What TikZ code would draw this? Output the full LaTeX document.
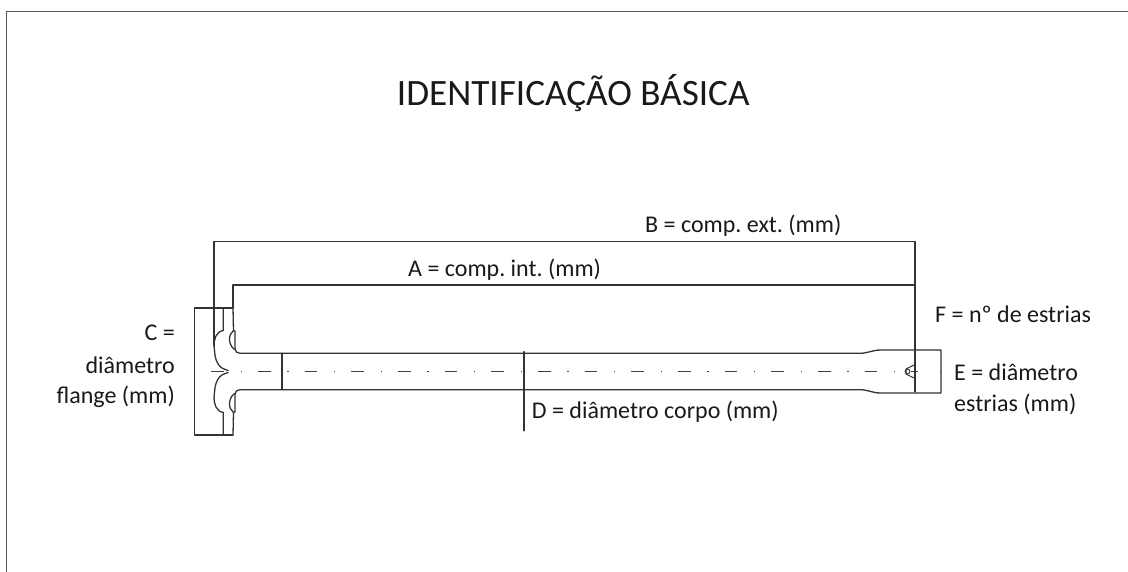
\documentclass[tikz,border=0pt]{standalone}
\usepackage{fontspec}
\setmainfont{Carlito}
\tikzset{
    part/.style={line width=1.3pt,color=black!80,line cap=round,line join=round},
    axisline/.style={line width=1.1pt,color=black!75,dash pattern=on 12.6pt off 16.6pt on 1.6pt off 15.87pt},
    label/.style={font=\frenchspacing\fontsize{24}{31.5}\selectfont,color=black!90,inner sep=0pt},
    heading/.style={font=\fontsize{37.2}{44}\selectfont,color=black!90,inner sep=0pt}
}
\begin{document}
\begin{tikzpicture}[x=1pt,y=-1pt]
        \useasboundingbox (0,0) rectangle (1128,572);

        % draw the open frame
        \draw[line width=1.8pt,color=black!65] (6.5,572) -- (6.5,11.5) -- (1128,11.5);

        \node[heading,anchor=base west] (title) at (396.7,106) {IDENTIFICAÇÃO BÁSICA};

        % draw the flange and the shaft, upper half then lower half
        \foreach \s in {1,-1} {
            \begin{scope}[shift={(0,371.5)},yscale=\s]
                % flange outline
                \draw[part] (194.7,0) -- (194.7,-63.5) -- (233,-63.5);
                \draw[part] (223.3,-63.5) -- (223.3,-41)
                    .. controls (216,-40) and (214,-32) .. (214,-26)
                    -- (215,-16)
                    .. controls (216,-10) and (219,-5) .. (222,-3.5)
                    .. controls (224,-2.5) and (226,-1.5) .. (228,-1);
                % neck fillet
                \draw[part] (233,-63.5) -- (233.5,-41) -- (235,-40.5) -- (235,-23)
                    .. controls (235,-20) and (237,-18.2) .. (240,-18.2)
                    -- (860,-18.2)
                    .. controls (868,-18.2) and (872,-21.5) .. (881,-21.5)
                    -- (941,-21.5) -- (941,0);
                \draw[part] (233.5,-41)
                    .. controls (228,-37) and (228,-27) .. (234.5,-22);
                % small cone at the splined end
                \draw[part,line width=1pt] (914,-6.5) -- (906,-2.5) -- (906,0);
            \end{scope}
        }

        % draw the small hole and the axis
        \draw[part,line width=1pt] (907.5,371.5) circle(2.4pt);
        \draw[axisline] (211.3,371.5) -- (918,371.5);

        % draw the body section lines
        \draw[part] (282,353.3) -- (282,389.7);
        \draw[part] (524,351.7) -- (524,430.7);

        % draw the dimension lines
        \draw[part] (214,345.5) -- (214,241.7) -- (915,241.7) -- (915,392);
        \draw[part] (233,308) -- (233,285) -- (915,285);

        % draw each label
        \node[label,anchor=base west] (compext) at (645,232.7) {B = comp. ext. (mm)};
        \node[label,anchor=base west] (compint) at (408,276.7) {A = comp. int. (mm)};
        \node[label,anchor=base east] (flangetop) at (175,341) {C =};
        \node[label,anchor=base east] (flangemid) at (175,373) {diâmetro};
        \node[label,anchor=base east] (flangebot) at (175,403) {flange (mm)};
        \node[label,anchor=base west] (corpo) at (531.7,418) {D = diâmetro corpo (mm)};
        \node[label,anchor=base west] (estriastop) at (954,380) {E = diâmetro};
        \node[label,anchor=base west] (estriasbot) at (954,411.7) {estrias (mm)};
        \node[label,anchor=base west] (ranhuras) at (935,323) {F = nº de estrias};
    \end{tikzpicture}
\end{document}
